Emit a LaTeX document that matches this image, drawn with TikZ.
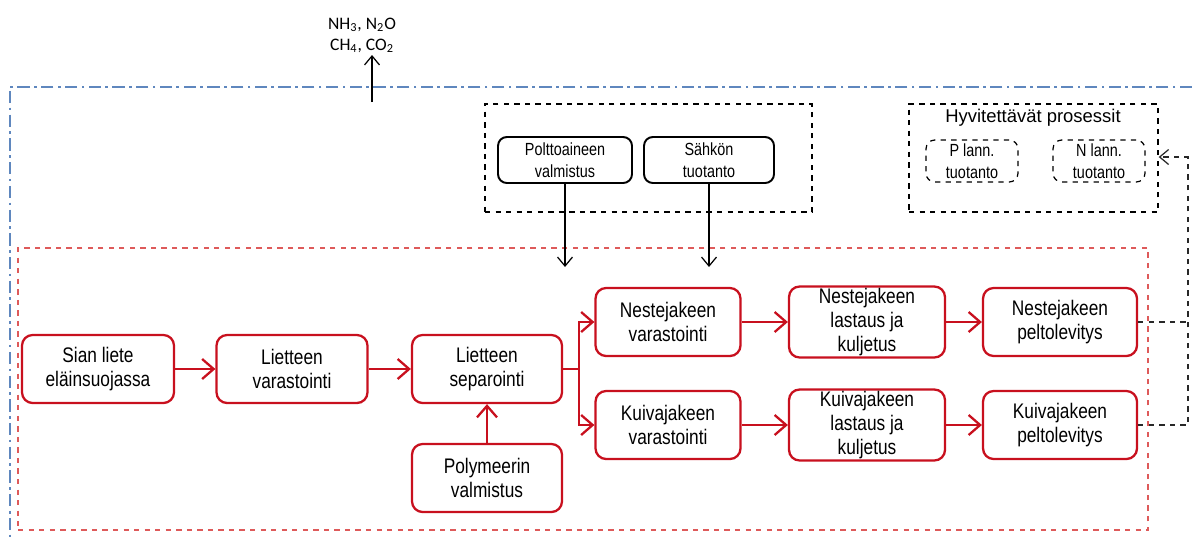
\documentclass[tikz,border=0pt]{standalone}
\usepackage{fontspec}
\setmainfont[FakeStretch=0.82]{Liberation Sans}
\newfontfamily\widefont{Liberation Sans}
\newfontfamily\gasfont{Carlito}
\usetikzlibrary{positioning, arrows.meta}

\definecolor{procred}{RGB}{200,16,30}
\definecolor{framered}{RGB}{222,90,90}
\definecolor{frameblue}{RGB}{95,135,190}
\definecolor{darkline}{RGB}{40,40,40}

\begin{document}
\begin{tikzpicture}[
    x=0.02cm, y=-0.02cm,
    proc/.style={rectangle, draw=procred, line width=1.3pt, rounded corners=6pt, minimum height=1.36cm, align=center, inner sep=1pt, font=\fontsize{12}{13.6}\selectfont},
    supply/.style={rectangle, draw=black, line width=1.1pt, rounded corners=5pt, minimum height=0.92cm, align=center, inner sep=1pt, font=\fontsize{10}{12.5}\selectfont},
    credit/.style={rectangle, draw=black, dashed, line width=0.7pt, rounded corners=5pt, minimum width=1.84cm, minimum height=0.84cm, align=center, inner sep=1pt, font=\fontsize{10}{12.5}\selectfont},
    group/.style={rectangle, draw=black, dashed, line width=0.8pt, inner sep=0pt},
    arrow/.style={-{Straight Barb[length=2.3mm, width=4mm]}, draw=procred, line width=1.3pt},
    feed/.style={-{Straight Barb[length=1.8mm, width=3mm]}, line width=0.7pt},
    loop/.style={darkline, dashed, line width=0.9pt}
]
\useasboundingbox (0,0) rectangle (1192,538);

% system boundary
\draw[frameblue, line width=0.9pt, dash pattern=on 7pt off 2.5pt on 1.5pt off 2.5pt] (1192,87) -- (10,87) -- (10,538);
\node[rectangle, draw=framered, dashed, line width=0.8pt, minimum width=22.6cm, minimum height=5.64cm, inner sep=0pt] (chain) at (583,389) {};

% emissions
\coordinate (emit) at (372,102);
\node[anchor=south, align=center, inner sep=1pt, font=\gasfont\fontsize{10}{12}\selectfont] (gas) at (362,55) {NH\textsubscript{3}, N\textsubscript{2}O\\CH\textsubscript{4}, CO\textsubscript{2}};
\draw[feed] (emit) -- (emit |- gas.south);

% energy supply
\node[group, minimum width=6.54cm, minimum height=2.16cm] (energy) at (648.5,158) {};
\node[supply, minimum width=2.68cm] (fuel) at (565,160) {Polttoaineen\\valmistus};
\node[supply, minimum width=2.6cm] (power) at (709,160) {Sähkön\\tuotanto};
\coordinate (fuelin) at (565,267);
\coordinate (powerin) at (709,267);
\draw[feed] (fuel) -- (fuelin);
\draw[feed] (power) -- (powerin);

% credited processes
\node[group, minimum width=4.98cm, minimum height=2.16cm] (hyvit) at (1033.5,158) {};
\node[font=\widefont\fontsize{10.5}{12}\selectfont, inner sep=1pt] (hyvittitle) at (1033,118) {Hyvitettävät prosessit};
\node[credit] (plann) at (972,161) {P lann.\\tuotanto};
\node[credit] (nlann) at (1099,161) {N lann.\\tuotanto};

% main chain
\node[proc, minimum width=3.04cm] (sian) at (98,369) {Sian liete\\eläinsuojassa};
\node[proc, minimum width=3.02cm] (lvar) at (292,369) {Lietteen\\varastointi};
\node[proc, minimum width=3cm] (lsep) at (487,369) {Lietteen\\separointi};
\node[proc, minimum width=3cm] (poly) at (487,478) {Polymeerin\\valmistus};

\node[proc, minimum width=2.9cm] (nvar) at (668,322) {Nestejakeen\\varastointi};
\node[proc, minimum width=3.12cm] (nkul) at (867,322) {Nestejakeen\\lastaus ja\\kuljetus};
\node[proc, minimum width=3.08cm] (npel) at (1060,322) {Nestejakeen\\peltolevitys};

\node[proc, minimum width=2.9cm] (kvar) at (668,425) {Kuivajakeen\\varastointi};
\node[proc, minimum width=3.12cm] (kkul) at (867,425) {Kuivajakeen\\lastaus ja\\kuljetus};
\node[proc, minimum width=3.08cm] (kpel) at (1060,425) {Kuivajakeen\\peltolevitys};

\draw[arrow] (sian) -- (lvar);
\draw[arrow] (lvar) -- (lsep);
\draw[arrow] (poly) -- (lsep);
\draw[arrow] (lsep.east) -- ++(16,0) |- (nvar.west);
\draw[arrow] (lsep.east) -- ++(16,0) |- (kvar.west);
\draw[arrow] (nvar) -- (nkul);
\draw[arrow] (nkul) -- (npel);
\draw[arrow] (kvar) -- (kkul);
\draw[arrow] (kkul) -- (kpel);

% credits back to avoided fertiliser production
\coordinate (turn) at (1188,157);
\draw[loop] (npel.east) -- (npel.east -| turn);
\draw[loop, feed] (kpel.east) -| (turn) -- (hyvit.east |- turn);

\end{tikzpicture}
\end{document}
